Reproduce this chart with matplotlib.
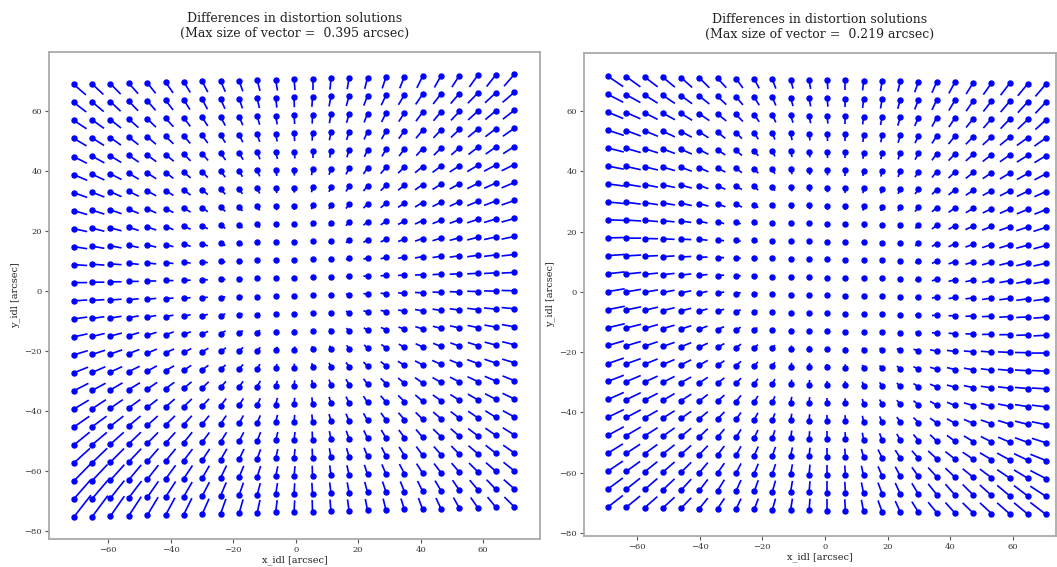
import numpy as np
import matplotlib
matplotlib.use("Agg")
import matplotlib.pyplot as plt
from matplotlib.collections import LineCollection
from matplotlib.transforms import Affine2D

plt.rcParams['font.family'] = 'DejaVu Serif'

# reference points of the two solutions (arcsec), columns and rows
x_left = [-71.0, -65.1, -59.3, -53.4, -47.5, -41.6, -35.8, -29.9, -24.0, -18.1, -12.3, -6.4, -0.5,
          5.4, 11.3, 17.1, 23.0, 28.9, 34.8, 40.6, 46.5, 52.4, 58.3, 64.1, 70.0]
y_left = [70.6, 64.6, 58.6, 52.6, 46.5, 40.5, 34.5, 28.5, 22.5, 16.5, 10.5, 4.5, -1.6,
          -7.6, -13.6, -19.6, -25.6, -31.6, -37.7, -43.7, -49.7, -55.7, -61.7, -67.7, -73.7]
x_right = [-69.2, -63.4, -57.5, -51.7, -45.9, -40.1, -34.3, -28.4, -22.6, -16.8, -11.0, -5.1, 0.7,
           6.5, 12.3, 18.2, 24.0, 29.8, 35.6, 41.4, 47.3, 53.1, 58.9, 64.7, 70.5]
y_right = [70.3, 64.3, 58.4, 52.4, 46.5, 40.5, 34.6, 28.6, 22.7, 16.7, 10.8, 4.8, -1.1,
           -7.1, -13.1, -19.0, -25.0, -30.9, -36.9, -42.8, -48.8, -54.7, -60.7, -66.6, -72.6]
# the point rows are slightly tilted (dy per dx)
tilt_left = 0.024
tilt_right = -0.018

max_size = ["0.395", "0.219"]

# drawn difference vectors, in tenths of a plot unit (rows top -> bottom)
du_left = [
    [39,36,33,30,27,24,21,18,15,12,9,6,3,0,-3,-6,-9,-12,-15,-18,-21,-24,-27,-30,-33],
    [40,37,33,30,27,24,20,17,14,11,7,4,1,-2,-6,-9,-12,-15,-19,-22,-25,-28,-32,-35,-38],
    [41,38,34,31,28,25,21,18,15,12,8,5,2,-1,-5,-8,-11,-14,-18,-21,-24,-27,-31,-34,-37],
    [41,38,34,31,28,25,21,18,15,12,8,5,2,-1,-5,-8,-11,-14,-18,-21,-24,-27,-31,-34,-37],
    [42,39,35,32,29,26,22,19,16,13,9,6,3,0,-4,-7,-10,-13,-17,-20,-23,-26,-30,-33,-36],
    [43,39,36,32,29,25,22,18,15,11,8,4,1,-3,-6,-10,-13,-17,-20,-24,-27,-31,-34,-38,-41],
    [43,39,36,32,29,25,22,18,15,11,8,4,1,-3,-6,-10,-13,-17,-20,-24,-27,-31,-34,-38,-41],
    [43,39,36,32,29,25,22,18,15,11,8,4,1,-3,-6,-10,-13,-17,-20,-24,-27,-31,-34,-38,-41],
    [43,39,36,32,29,25,22,18,15,11,8,4,1,-3,-6,-10,-13,-17,-20,-24,-27,-31,-34,-38,-41],
    [43,39,36,32,29,25,22,18,15,11,8,4,1,-3,-6,-10,-13,-17,-20,-24,-27,-31,-34,-38,-41],
    [43,39,36,32,29,25,22,18,15,11,8,4,1,-3,-6,-10,-13,-17,-20,-24,-27,-31,-34,-38,-41],
    [43,39,36,32,29,25,22,18,15,11,8,4,1,-3,-6,-10,-13,-17,-20,-24,-27,-31,-34,-38,-41],
    [43,39,36,32,29,25,22,18,15,11,8,4,1,-3,-6,-10,-13,-17,-20,-24,-27,-31,-34,-38,-41],
    [43,39,36,32,29,25,22,18,15,11,8,4,1,-3,-6,-10,-13,-17,-20,-24,-27,-31,-34,-38,-41],
    [44,40,37,33,30,26,23,19,16,12,9,5,2,-2,-5,-9,-12,-16,-19,-23,-26,-30,-33,-37,-40],
    [45,41,38,34,31,27,24,20,17,13,10,6,3,-1,-4,-8,-11,-15,-18,-22,-25,-29,-32,-36,-39],
    [46,42,38,35,31,27,24,20,16,13,9,5,1,-2,-6,-10,-13,-17,-21,-24,-28,-31,-34,-37,-39],
    [47,43,39,36,32,28,25,21,17,13,10,6,2,-2,-6,-10,-13,-17,-20,-24,-27,-30,-33,-36,-38],
    [48,44,40,37,33,29,26,22,18,14,10,6,2,-2,-6,-10,-13,-17,-20,-23,-26,-29,-32,-35,-38],
    [50,46,42,38,34,30,26,22,18,14,10,6,2,-2,-6,-10,-13,-16,-19,-22,-25,-28,-31,-34,-37],
    [51,47,43,39,35,31,27,23,19,15,11,7,3,-1,-5,-9,-12,-15,-18,-21,-25,-28,-31,-34,-37],
    [52,48,44,40,36,32,28,24,20,16,11,7,3,-1,-5,-8,-11,-14,-17,-20,-23,-26,-30,-33,-36],
    [53,49,45,40,36,32,28,23,19,15,11,7,3,-1,-4,-7,-10,-13,-16,-19,-22,-25,-28,-32,-35],
    [54,50,45,41,36,32,27,23,18,14,10,6,2,-2,-4,-6,-9,-11,-13,-16,-19,-22,-26,-30,-34],
    [55,50,45,40,35,30,26,22,17,13,9,5,2,-1,-3,-5,-7,-9,-11,-13,-16,-19,-23,-27,-32],
]
dv_left = [
    [-36,-36,-36,-36,-36,-36,-36,-36,-36,-36,-36,-36,-36,-36,-37,-37,-37,-37,-38,-38,-38,-38,-39,-39,-39],
    [-33] * 25,
    [-29] * 25,
    [-26] * 25,
    [-23] * 25,
    [-20] * 25,
    [-17] * 25,
    [-14] * 25,
    [-11] * 25,
    [-8] * 25,
    [-4] * 25,
    [-1] * 25,
    [2] * 25,
    [5] * 25,
    [9,9,9,9,9,9,8,8,8,8,8,8,8,8,8,8,8,8,8,8,8,8,8,8,8],
    [13,13,13,13,13,12,12,12,12,12,11,11,11,11,11,11,11,11,11,11,11,11,11,11,11],
    [18,18,17,17,17,16,16,15,15,15,15,14,14,14,14,14,14,14,14,14,14,14,14,14,13],
    [24,23,23,22,22,21,21,20,20,19,19,18,18,18,18,18,18,18,18,18,17,17,17,17,17],
    [29,29,28,27,26,26,25,24,24,23,22,22,21,21,21,21,21,21,21,21,20,20,20,20,20],
    [35,34,33,32,31,30,29,28,27,26,25,25,24,24,24,24,24,24,23,23,23,23,23,23,22],
    [42,40,39,38,36,35,34,32,31,30,29,28,27,27,27,27,27,27,26,26,26,26,25,25,25],
    [48,47,45,43,42,40,38,37,36,34,32,31,30,30,30,29,29,29,29,29,28,28,28,28,27],
    [55,53,51,49,47,45,43,41,40,38,36,34,33,33,33,32,32,32,32,32,31,31,30,30,30],
    [63,60,58,55,53,51,48,46,44,42,39,38,36,36,36,35,35,35,34,34,34,34,33,33,32],
    [72,69,66,63,60,57,54,51,49,46,43,41,39,39,39,38,38,38,37,37,36,36,35,35,34],
]

ur_top = [48,45,41,38,35,32,28,22,16,11,8,5,2,0,-3,-5,-8,-12,-15,-19,-23,-26,-29,-32,-34]
ur_upper = [50,46,42,38,34,29,25,19,13,8,5,3,1,0,-2,-4,-7,-11,-15,-20,-24,-28,-31,-35,-37]
ur_mid = [53,47,42,37,32,26,21,15,10,5,2,1,0,0,0,-2,-5,-10,-15,-20,-25,-30,-33,-37,-40]
ur_lower = [50,46,41,37,32,27,22,16,12,8,4,2,0,-1,-4,-8,-11,-16,-21,-25,-30,-34,-37,-41,-45]
ur_bottom = [47,44,40,37,32,27,22,16,13,10,6,3,0,-2,-7,-13,-16,-21,-27,-30,-34,-37,-40,-44,-50]
du_right = ([ur_top] * 3 + [ur_upper] * 5 + [ur_mid] * 7 + [ur_lower] * 6 + [ur_bottom] * 4)
dv_right = [
    [-33,-33,-32,-32,-32,-32,-31,-31,-31,-31,-30,-30,-30,-31,-32,-33,-34,-35,-36,-37,-38,-39,-40,-41,-42],
    [-25,-25,-26,-26,-26,-26,-27,-27,-27,-27,-28,-28,-28,-29,-30,-31,-31,-32,-33,-34,-35,-35,-36,-37,-38],
    [-20,-20,-21,-21,-22,-22,-22,-23,-23,-24,-24,-25,-25,-26,-26,-27,-28,-28,-29,-30,-30,-31,-32,-32,-33],
    [-16,-17,-17,-18,-18,-19,-20,-20,-21,-21,-22,-22,-23,-23,-24,-24,-25,-25,-25,-26,-26,-27,-27,-27,-28],
    [-12,-13,-13,-14,-15,-15,-16,-17,-17,-18,-19,-19,-20,-20,-21,-21,-21,-21,-22,-22,-22,-23,-23,-23,-24],
    [-9,-10,-10,-11,-12,-13,-13,-14,-15,-16,-16,-17,-18,-18,-18,-19,-19,-19,-19,-20,-20,-20,-20,-21,-21],
    [-6,-7,-8,-8,-9,-10,-11,-11,-12,-13,-14,-14,-15,-15,-16,-16,-16,-16,-16,-17,-17,-17,-17,-18,-18],
    [-4,-5,-6,-6,-7,-8,-9,-9,-10,-11,-12,-12,-13,-13,-14,-14,-14,-14,-14,-15,-15,-15,-15,-16,-16],
    [-1,-2,-3,-3,-4,-5,-6,-6,-7,-8,-9,-9,-10,-10,-11,-11,-11,-11,-12,-12,-12,-13,-13,-13,-14],
    [2,1,0,-1,-1,-2,-3,-4,-5,-6,-6,-7,-8,-8,-9,-9,-9,-9,-10,-10,-10,-11,-11,-11,-12],
    [5,4,3,3,2,1,0,-1,-2,-3,-3,-4,-5,-5,-6,-6,-7,-7,-7,-8,-8,-9,-9,-10,-10],
    [7,6,5,5,4,3,2,1,0,-1,-1,-2,-3,-3,-4,-4,-5,-5,-5,-6,-6,-7,-7,-8,-8],
    [10,9,8,8,7,6,5,4,3,3,2,1,0,-1,-1,-2,-2,-3,-3,-4,-4,-5,-5,-6,-6],
    [12,11,11,10,9,8,8,7,6,5,5,4,3,2,2,1,1,0,-1,-1,-2,-2,-3,-3,-4],
    [14,13,13,12,11,11,10,9,9,8,7,7,6,5,5,4,3,2,2,1,0,-1,-1,-2,-3],
    [16,15,15,14,14,13,13,12,11,11,10,10,9,8,7,7,6,5,4,3,2,2,1,0,-1],
    [19,18,18,17,17,16,16,15,14,14,13,13,12,11,10,9,8,7,6,6,5,4,3,2,1],
    [21,21,20,20,19,19,18,18,17,17,16,16,15,14,13,12,11,10,9,7,6,5,4,3,2],
    [24,24,23,23,22,22,21,21,20,20,19,19,18,17,16,15,14,13,12,10,9,8,7,6,5],
    [26,26,25,25,24,24,24,23,23,22,22,21,21,20,19,18,17,16,15,14,13,12,11,10,9],
    [29,29,28,28,28,27,27,27,26,26,26,25,25,24,23,22,21,20,20,19,18,17,16,15,14],
    [31,31,31,31,30,30,30,30,30,30,29,29,29,28,28,27,26,25,25,24,23,22,22,21,20],
    [34,34,34,34,34,34,33,33,33,33,33,33,33,32,32,31,31,30,30,29,28,28,27,27,26],
    [37,37,37,37,37,37,37,37,37,37,37,37,37,37,36,36,36,36,35,35,35,34,34,34,33],
    [39,38,37,36,35,35,35,35,36,37,38,39,40,39,38,37,36,35,34,34,34,35,36,37,39],
]


def draw_panel(ax, xs, ys, du, dv, tilt, size, xlim, ylim):
    X, Y = np.meshgrid(xs, ys)
    U = np.array(du) / 10.0
    V = np.array(dv) / 10.0
    tr = Affine2D().skew(0, np.arctan(tilt)) + ax.transData
    start = np.stack([X.ravel(), Y.ravel()], axis=1)
    end = np.stack([(X + U).ravel(), (Y + V).ravel()], axis=1)
    segs = np.stack([start, end], axis=1)
    ax.add_collection(LineCollection(segs, colors="blue", linewidths=1.2, transform=tr))
    ax.plot(X.ravel(), Y.ravel(), "o", color="blue", ms=3.6, mec="blue", transform=tr)
    ax.set_xlim(*xlim)
    ax.set_ylim(*ylim)
    ax.set_xticks([-60, -40, -20, 0, 20, 40, 60])
    ax.set_yticks([-80, -60, -40, -20, 0, 20, 40, 60])
    ax.tick_params(labelsize=6, length=3, width=0.8, color="#555555", labelcolor="#333333", pad=2)
    for s in ax.spines.values():
        s.set_color("#aaaaaa")
        s.set_linewidth(1.3)
    ax.set_title("Differences in distortion solutions\n(Max size of vector =  {} arcsec)".format(size),
                 fontsize=9, pad=11, color="#222222")
    ax.set_xlabel("x_idl [arcsec]", fontsize=7, labelpad=1, color="#222222")
    ax.set_ylabel("y_idl [arcsec]", fontsize=7, labelpad=3, color="#222222")


fig = plt.figure(figsize=(10.57, 5.67), dpi=100)
ax1 = fig.add_axes([0.0464, 0.0494, 0.4645, 0.8589])
ax2 = fig.add_axes([0.5525, 0.0547, 0.4466, 0.8518])
draw_panel(ax1, x_left, y_left, du_left, dv_left, tilt_left, max_size[0], (-78.9, 78.2), (-82.7, 79.7))
draw_panel(ax2, x_right, y_right, du_right, dv_right, tilt_right, max_size[1], (-76.9, 73.7), (-81.0, 79.3))
plt.savefig("out.png", dpi=100)
